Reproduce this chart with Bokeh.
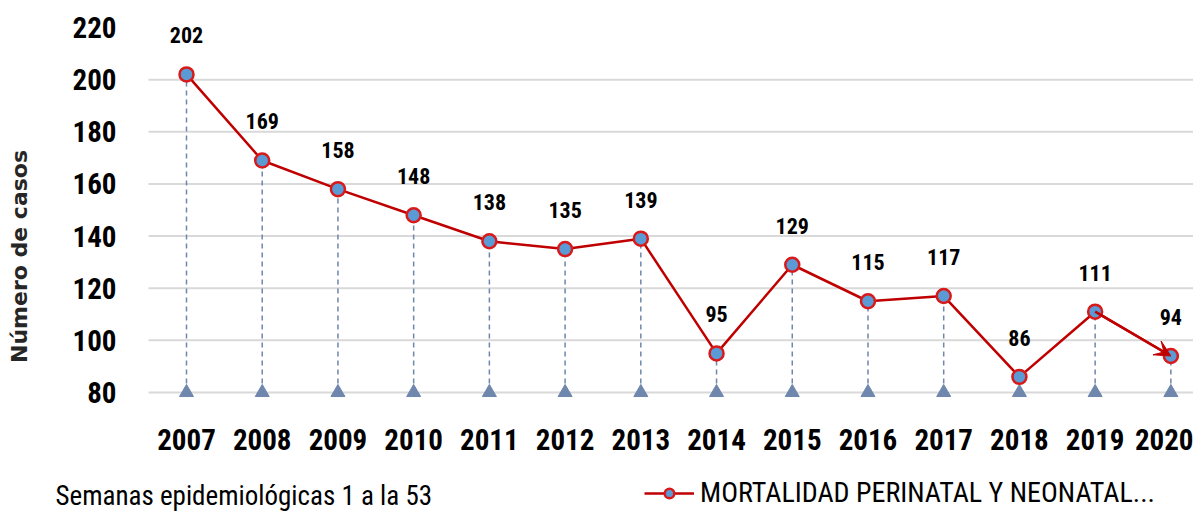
from bokeh.plotting import figure
from bokeh.models import (ColumnDataSource, FixedTicker, Range1d, Legend, LegendItem,
                          Arrow, VeeHead, Label)
from bokeh.core.properties import value
from bokeh.embed import file_html
from bokeh.resources import INLINE

years = [2007, 2008, 2009, 2010, 2011, 2012, 2013, 2014, 2015, 2016, 2017, 2018, 2019, 2020]
casos = [202, 169, 158, 148, 138, 135, 139, 95, 129, 115, 117, 86, 111, 94]
y_ticks = [80, 100, 120, 140, 160, 180, 200, 220]
y_title = "Número de casos"
x_note = "Semanas epidemiológicas 1 a la 53"
series_name = "MORTALIDAD PERINATAL Y NEONATAL..."
base = 80

RED = "#c00000"
MRED = "#d81a1a"
BLUE = "#5b9bd5"
SLATE = "#6f86ad"
COND = "Roboto Condensed"

# page geometry (pixels)
W, H = 1193, 512
TOP = 27            # pixel row of the top value (220)
AXIS_Y = 392        # pixel row of the base value (80)
AXIS_X = 148        # pixel column where the plotting area starts
FIRST_X = 186       # pixel column of the first category
STEP = 75.72        # pixels per category

ppu = (AXIS_Y - TOP) / (y_ticks[-1] - y_ticks[0])
y_lo = y_ticks[0] - (H - AXIS_Y) / ppu
y_hi = y_ticks[-1] + TOP / ppu
x_lo = years[0] - FIRST_X / STEP
x_hi = x_lo + W / STEP
x_axis_pos = x_lo + AXIS_X / STEP

src = ColumnDataSource(dict(x=years, y=casos, base=[base] * len(years),
                            lbl=[str(v) for v in casos]))

p = figure(width=W, height=H, output_backend="svg", toolbar_location=None,
           x_range=Range1d(x_lo, x_hi), y_range=Range1d(y_lo, y_hi),
           min_border_left=0, min_border_right=0, min_border_top=0, min_border_bottom=0)
p.outline_line_color = None
p.background_fill_color = "white"
p.xgrid.grid_line_color = None
p.ygrid.grid_line_color = None

# horizontal gridlines limited to the plotting area
gl = y_ticks[:-1]
p.segment(x0=[x_axis_pos] * len(gl), x1=[x_hi] * len(gl), y0=gl, y1=gl,
          line_color="#d9d9d9", line_width=2)

p.xaxis.ticker = FixedTicker(ticks=years)
p.yaxis.ticker = FixedTicker(ticks=y_ticks)
p.xaxis.fixed_location = base
p.yaxis.fixed_location = x_axis_pos
for ax in (p.xaxis[0], p.yaxis[0]):
    ax.axis_line_color = None
    ax.major_tick_line_color = None
    ax.minor_tick_line_color = None
    ax.major_label_text_font = COND
    ax.major_label_text_font_style = "bold"
    ax.major_label_text_font_size = "29px"
    ax.major_label_text_color = "black"
p.xaxis.major_label_standoff = 30
p.yaxis.major_label_standoff = 26
p.yaxis.axis_label = y_title
p.yaxis.axis_label_text_font = "DejaVu Sans"
p.yaxis.axis_label_text_font_style = "bold"
p.yaxis.axis_label_text_font_size = "22px"
p.yaxis.axis_label_text_color = "#262626"
p.yaxis.axis_label_standoff = 38

p.segment(x0="x", y0="base", x1="x", y1="y", source=src, line_color=SLATE,
          line_width=1.5, line_dash="5 4")
p.scatter(x="x", y="base", source=src, marker="triangle", size=14,
          fill_color=SLATE, line_color=SLATE)

ln = p.line(x="x", y="y", source=src, line_color=RED, line_width=2.5)
p.add_layout(Arrow(end=VeeHead(size=16, fill_color=RED, line_color=RED, line_width=1),
                   x_start=years[-2], y_start=casos[-2], x_end=years[-1], y_end=casos[-1],
                   line_color=RED, line_width=2.5))
pts = p.scatter(x="x", y="y", source=src, marker="circle", size=14,
                fill_color=BLUE, line_color=MRED, line_width=2.5)

p.text(x="x", y="y", text="lbl", source=src, y_offset=-39, text_align="center",
       text_baseline="middle", text_font=value(COND), text_font_style="bold",
       text_font_size="22px", text_color="black")

leg = Legend(items=[LegendItem(label=series_name, renderers=[ln, pts])],
             location=(644, 3), orientation="horizontal",
             label_text_font=COND, label_text_font_size="28px",
             label_text_color="black", glyph_width=50, glyph_height=24,
             border_line_color=None, background_fill_alpha=0, padding=4, spacing=0,
             label_standoff=6, margin=0)
p.add_layout(leg, "center")

p.add_layout(Label(x=55, y=H - 495, x_units="screen", y_units="screen", text=x_note,
                   text_font=COND, text_font_size="27px", text_color="black",
                   text_baseline="middle"))

open("out.html", "w").write(file_html(p, INLINE))
